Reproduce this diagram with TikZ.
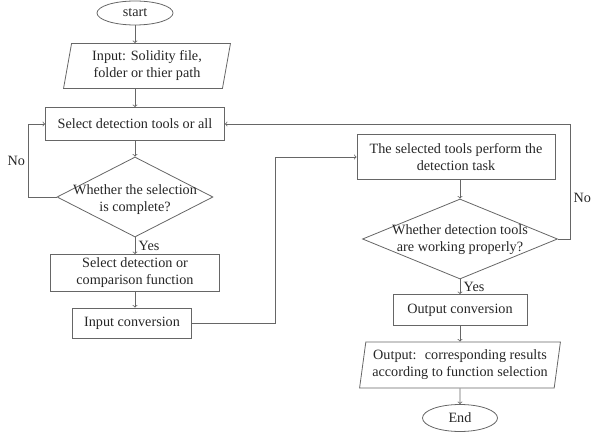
\documentclass[tikz,border=0pt]{standalone}
\usepackage{fontspec}
\setmainfont{Liberation Serif}
\usetikzlibrary{shapes.geometric}
\begin{document}
\begin{tikzpicture}[x=1pt, y=-1pt,
  every node/.style={font=\fontsize{14.2}{17}\selectfont, text=black!85},
  line/.style={draw=black!60, line width=0.8pt},
  proc/.style={line, rectangle, inner sep=0pt, align=center},
  term/.style={line, ellipse, inner sep=0pt},
  io/.style={line, trapezium, trapezium left angle=79, trapezium right angle=101,
    trapezium stretches=true, inner sep=0pt, align=center},
  decide/.style={line, diamond, inner sep=0pt},
  arr/.style={line, ->}]
  \useasboundingbox (0,0) rectangle (593,438);

  % left column
  \node[term, minimum width=76pt, minimum height=24pt] (start) at (135,13) {start};
  \node[io, minimum width=167pt, minimum height=45pt] (in) at (147,66) {Input: Solidity file,\\folder or thier path};
  \node[proc, minimum width=179pt, minimum height=33pt] (sel) at (135,124) {Select detection tools or all};
  \node[decide, minimum width=156pt, minimum height=80pt,
    label={[align=center, yshift=-3pt]center:Whether the selection\\is complete?}] (chk) at (135,197) {};
  \node[proc, minimum width=169pt, minimum height=37pt] (func) at (135,273) {Select detection or\\comparison function};
  \node[proc, minimum width=119pt, minimum height=30pt] (inconv) at (132,323) {Input conversion};

  % right column
  \node[proc, minimum width=198pt, minimum height=45pt] (task) at (456,157) {The selected tools perform the\\detection task};
  \node[decide, minimum width=195pt, minimum height=80pt,
    label={[align=center, yshift=-1pt]center:Whether detection tools\\are working properly?}] (work) at (460,239) {};
  \node[proc, minimum width=134pt, minimum height=31pt] (outconv) at (460,310) {Output conversion};
  \node[io, minimum width=201pt, minimum height=46pt] (out) at (460,365) {Output: \ corresponding results\\according to function selection};
  \node[term, minimum width=75pt, minimum height=27pt] (end) at (460,418) {End};

  % connectors
  \draw[arr] (start) -- (in.north -| start);
  \draw[arr] (in.south -| start) -- (sel);
  \draw[arr] (sel) -- (chk);
  \draw[arr] (chk) -- node[right] {Yes} (func);
  \draw[arr] (func) -- (inconv.north -| func);
  \draw[arr] (chk.west) -- ++(-28,0) |- node[pos=0.25, left] {No} (sel.west);
  \draw[arr] (inconv.east) -- ++(83,0) |- (task.west);
  \draw[arr] (task.south -| work) -- (work);
  \draw[arr] (work) -- node[right] {Yes} (outconv);
  \draw[arr] (outconv) -- (out);
  \draw[arr] (out) -- (end);
  \draw[arr] (work.east) -- ++(12,0) |- node[pos=0.18, right] {No} (sel.east);
\end{tikzpicture}
\end{document}
